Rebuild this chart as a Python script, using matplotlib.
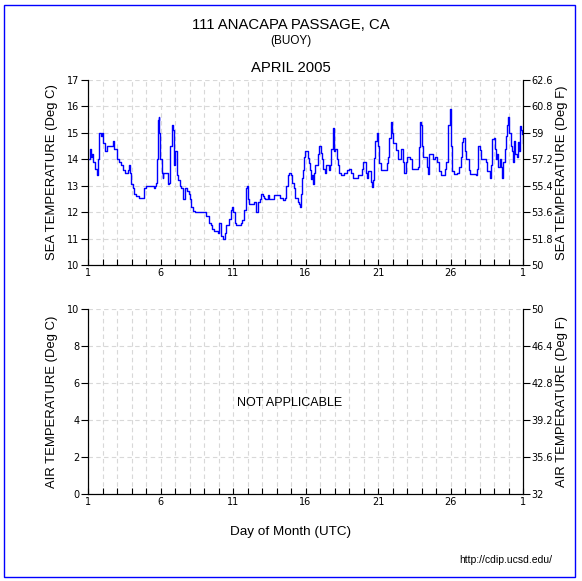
#!/usr/bin/env python3
# CDIP monthly buoy plot: sea temperature (top) and air temperature (bottom)
# for 111 Anacapa Passage, April 2005. Writes out.png.

import matplotlib
matplotlib.use("Agg")
import matplotlib.pyplot as plt
from matplotlib.patches import Rectangle

# sea temperature trace (day of month, deg C)
sea_day = [
    1.00, 1.09, 1.14, 1.21, 1.28, 1.32, 1.48, 1.62, 1.71, 1.78, 1.90, 1.97,
    2.01, 2.17, 2.31, 2.66, 2.70, 2.82, 2.98, 3.16, 3.28, 3.39, 3.57, 3.74,
    3.80, 3.90, 3.97, 4.08, 4.20, 4.31, 4.54, 4.82, 4.89, 5.00, 5.53, 5.62,
    5.69, 5.76, 5.80, 5.87, 5.92, 5.99, 6.08, 6.15, 6.20, 6.49, 6.52, 6.61,
    6.68, 6.77, 6.84, 6.91, 6.95, 7.02,
    7.11, 7.21, 7.32, 7.44, 7.55, 7.67, 7.85, 7.96, 8.03, 8.13, 8.24, 8.36,
    9.11, 9.16, 9.34, 9.46, 9.57, 9.69, 9.92, 9.96, 10.03, 10.19, 10.31,
    10.42, 10.49, 10.72, 10.84, 10.95, 11.02, 11.11, 11.21, 11.53, 11.64,
    11.76, 11.87, 11.94, 12.03, 12.13, 12.33, 12.45, 12.61, 12.72, 12.86,
    12.95, 13.09,
    13.11, 13.18, 13.41, 13.51, 13.80, 14.26, 14.43, 14.61, 14.68, 14.77,
    14.89, 15.00, 15.07, 15.18, 15.30, 15.48, 15.57, 15.64, 15.71, 15.76,
    15.83, 15.90, 15.99, 16.15, 16.24, 16.33, 16.40, 16.47, 16.54, 16.61,
    16.68, 16.84, 16.95, 17.05, 17.14, 17.23, 17.32, 17.41, 17.60, 17.69,
    17.78, 17.87, 17.94, 18.01, 18.17, 18.24, 18.33, 18.45, 18.63, 18.86,
    18.98, 19.16,
    19.30, 19.64, 19.87, 19.99, 20.17, 20.27, 20.33, 20.52, 20.59, 20.68,
    20.75, 20.82, 20.91, 20.98, 21.09, 21.18, 21.48, 21.64, 21.71, 21.78,
    21.87, 21.94, 22.01, 22.22, 22.36, 22.59, 22.75, 22.82, 22.91, 22.98,
    23.21, 23.32, 23.74, 23.83, 23.90, 23.97, 24.04, 24.13, 24.36, 24.43,
    24.50, 24.82, 24.93, 25.05, 25.18,
    25.37, 25.60, 25.71, 25.83, 25.94, 26.01, 26.06, 26.13, 26.24, 26.47,
    26.57, 26.75, 26.82, 26.89, 26.98, 27.07, 27.25, 27.35, 27.78, 27.85,
    27.92, 28.01, 28.08, 28.47, 28.54, 28.73, 28.82, 28.89, 28.98, 29.05,
    29.12, 29.21, 29.28, 29.39, 29.46, 29.55, 29.65, 29.74, 29.83, 29.90,
    29.97, 30.06, 30.15, 30.24, 30.31, 30.38, 30.47, 30.57, 30.66, 30.75,
    30.82, 30.89, 30.96, 31.00,
]
sea_temp = [
    14.0, 14.0, 14.4, 14.1, 14.2, 13.9, 13.65, 13.4, 14.0, 15.0, 14.9, 15.0,
    14.6, 14.3, 14.5, 14.5, 14.7, 14.4, 14.0, 13.9, 13.8, 13.6, 13.5, 13.6,
    13.8, 13.5, 13.05, 12.9, 12.7, 12.6, 12.55, 12.55, 12.9, 13.0, 12.9, 13.0,
    13.1, 14.0, 15.5, 15.6, 15.0, 14.0, 13.5, 13.3, 13.5, 13.5, 13.05, 13.1,
    14.5, 15.3, 15.1, 14.0, 13.8, 14.3,
    13.4, 13.2, 13.0, 12.9, 12.5, 12.9, 12.8, 12.7, 12.5, 12.2, 12.05, 12.0,
    12.0, 11.85, 11.6, 11.5, 11.35, 11.3, 11.3, 11.2, 11.6, 11.1, 11.0,
    11.2, 11.5, 11.75, 12.1, 12.2, 12.0, 11.6, 11.5, 11.6, 11.7,
    12.1, 12.9, 13.0, 12.5, 12.3, 12.3, 12.4, 12.0, 12.4, 12.5,
    12.7, 12.6,
    12.55, 12.5, 12.65, 12.5, 12.65, 12.55, 12.45, 12.55, 13.0, 13.4,
    13.5, 13.4, 13.1, 12.9, 12.55, 12.4, 12.3, 12.2, 12.7, 13.3,
    13.6, 14.1, 14.3, 14.05, 13.85, 13.6, 13.25, 13.4, 13.05, 13.5,
    13.8, 14.2, 14.5, 14.25, 14.0, 13.65, 13.5, 13.8, 13.6, 13.8,
    14.4, 15.2, 14.3, 14.4, 14.0, 13.8, 13.5, 13.4, 13.5, 13.6,
    13.65, 13.5,
    13.3, 13.4, 13.65, 13.9, 13.5, 13.3, 13.55, 13.15, 12.95, 13.2,
    14.05, 14.7, 15.0, 14.5, 13.85, 13.6, 13.6, 13.85, 14.1, 14.8,
    15.4, 15.0, 14.6, 14.35, 14.0, 14.4, 13.9, 13.5, 13.9, 14.1,
    14.0, 13.65, 13.7, 14.45, 15.4, 15.3, 14.5, 14.1, 13.7, 13.45,
    14.2, 14.0, 14.1, 13.9, 13.55,
    13.4, 13.65, 13.9, 15.3, 15.9, 15.5, 14.5, 13.55, 13.45, 13.5,
    13.7, 14.1, 14.65, 14.8, 14.3, 14.0, 13.6, 13.45, 13.4, 13.65,
    14.5, 14.35, 14.0, 13.9, 13.55, 13.3, 13.8, 14.75, 14.8, 14.4,
    14.0, 14.2, 13.7, 14.0, 13.7, 13.3, 13.9, 14.4, 14.9, 15.3,
    15.6, 15.0, 14.5, 14.3, 13.9, 14.7, 14.2, 14.1, 14.65, 14.3,
    15.25, 15.1, 14.95, 14.6,
]

day_ticks = [1, 6, 11, 16, 21, 26, 31]
day_labels = ["1", "6", "11", "16", "21", "26", "1"]
sea_c_ticks = [10, 11, 12, 13, 14, 15, 16, 17]
sea_f_ticks = [50, 51.8, 53.6, 55.4, 57.2, 59, 60.8, 62.6]
air_c_ticks = [0, 2, 4, 6, 8, 10]
air_f_ticks = [32, 35.6, 39.2, 42.8, 46.4, 50]

plt.rcParams["font.family"] = ["Liberation Sans", "DejaVu Sans"]
TICKFONT = {"family": "DejaVu Sans", "size": 7}

W, H = 582, 581
fig = plt.figure(figsize=(W / 100, H / 100), dpi=100)
fig.add_artist(Rectangle((4 / W, 4 / H), 571 / W, 572 / H, transform=fig.transFigure,
                         fill=False, edgecolor="#0000ff", linewidth=1))


def style(ax, cticks, fticks, clim, flim, clabel, flabel):
    ax.set_xlim(1, 31)
    ax.set_ylim(*clim)
    ax.set_xticks(day_ticks)
    ax.set_xticklabels(day_labels, fontdict=TICKFONT)
    ax.set_xticks(range(1, 32), minor=True)
    ax.set_yticks(cticks)
    ax.set_yticklabels([f"{t:g}" for t in cticks], fontdict=TICKFONT)
    ax.tick_params(axis="x", which="both", direction="in", length=4, pad=2,
                   width=0.8)
    ax.tick_params(axis="y", direction="out", length=5, pad=1, width=0.8)
    ax.grid(True, which="both", axis="x", color="#d8d8d8", linestyle=(0, (4, 3)),
            linewidth=0.8)
    ax.grid(True, which="major", axis="y", color="#d8d8d8", linestyle=(0, (4, 3)),
            linewidth=0.8)
    ax.set_axisbelow(True)
    ax.spines["top"].set_visible(False)
    ax.set_ylabel(clabel, fontsize=9.4, labelpad=7)

    tw = ax.twinx()
    tw.set_ylim(*flim)
    tw.set_yticks(fticks)
    tw.set_yticklabels([f"{t:g}" for t in fticks], fontdict=TICKFONT)
    tw.tick_params(axis="y", direction="out", length=5, pad=1, width=0.8)
    tw.spines["top"].set_visible(False)
    tw.set_ylabel(flabel, fontsize=9.4, labelpad=2)
    return tw


ax1 = fig.add_axes([88 / W, 1 - 265 / H, 435 / W, 185 / H])
ax1.plot(sea_day, sea_temp, color="#0000ff", linewidth=1, drawstyle="steps-post")
style(ax1, sea_c_ticks, sea_f_ticks, (10, 17), (50, 62.6),
      "SEA TEMPERATURE (Deg C)", "SEA TEMPERATURE (Deg F)")

ax2 = fig.add_axes([88 / W, 1 - 494 / H, 435 / W, 185 / H])
style(ax2, air_c_ticks, air_f_ticks, (0, 10), (32, 50),
      "AIR TEMPERATURE (Deg C)", "AIR TEMPERATURE (Deg F)")

fig.text(290 / W, 1 - 403 / H, "NOT APPLICABLE", ha="center", va="center",
         fontsize=9)
fig.text(291 / W, 1 - 25 / H, "111 ANACAPA PASSAGE, CA", ha="center", va="center",
         fontsize=10.7)
fig.text(291 / W, 1 - 41 / H, "(BUOY)", ha="center", va="center", fontsize=8.5)
fig.text(291 / W, 1 - 68 / H, "APRIL 2005", ha="center", va="center", fontsize=10.7)
fig.text(291 / W, 1 - 532 / H, "Day of Month (UTC)", ha="center", va="center",
         fontsize=9.7)
fig.text(552 / W, 1 - 560 / H, "http://cdip.ucsd.edu/", ha="right", va="center",
         fontsize=7.5)

fig.savefig("out.png", dpi=100)
